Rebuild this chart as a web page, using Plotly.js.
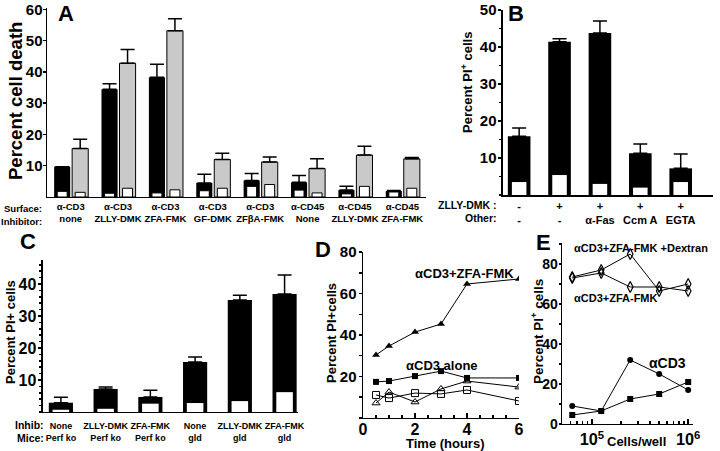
<!DOCTYPE html>
<html>
<head>
<meta charset="utf-8">
<script src="https://cdn.plot.ly/plotly-3.0.1.min.js"></script>
<style>html,body{margin:0;padding:0;background:#fff;}#chart{width:720px;height:451px;}</style>
</head>
<body>
<div id="chart"></div>
<script>
// ---------- Panel A ----------
const catsA = ['α-CD3<br>none', 'α-CD3<br>ZLLY-DMK', 'α-CD3<br>ZFA-FMK', 'α-CD3<br>GF-DMK',
               'α-CD3<br>ZFβA-FMK', 'α-CD45<br>None', 'α-CD45<br>ZLLY-DMK', 'α-CD45<br>ZFA-FMK'];
const blackA = [9.7, 34.5, 38.3, 4.5, 5.3, 4.7, 2.2, 1.9];
const blackErrA = [0, 1.7, 4.2, 2.8, 2.2, 2.2, 1.2, 0.2];
const greyA = [15.5, 42.8, 53.2, 12.0, 11.2, 9.1, 13.4, 12.2];
const greyErrA = [3.0, 4.4, 3.8, 2.0, 1.6, 3.1, 2.8, 0.4];
const whiteBlackA = [1.8, 1.2, 1.3, 2.0, 3.4, 2.2, 1.0, 1.6];
const whiteGreyA = [1.5, 2.8, 2.3, 2.8, 4.0, 1.3, 3.4, 2.8];

// ---------- Panel B ----------
const catsB = ['-<br>-', '+<br>-', '+<br>α-Fas', '+<br>Ccm A', '+<br>EGTA'];
const valB = [15.9, 41.4, 43.8, 11.3, 7.2];
const errB = [2.2, 0.8, 3.2, 2.5, 3.9];
const whiteB = [3.5, 5.4, 3.0, 2.0, 3.5];

// ---------- Panel C ----------
const catsC = ['None<br>Perf ko', 'ZLLY-DMK<br>Perf ko', 'ZFA-FMK<br>Perf ko',
               'None<br>gld', 'ZLLY-DMK<br>gld', 'ZFA-FMK<br>gld'];
const valC = [2.9, 7.2, 4.7, 15.6, 35.0, 36.9];
const errC = [1.7, 0.6, 2.1, 1.6, 1.5, 5.9];
const whiteC = [0.7, 1.0, 2.6, 2.8, 3.4, 6.2];

// ---------- Panel D ----------
const timeD = [0.5, 1, 2, 3, 4, 6];
const zfaD = [30.4, 34.7, 41.4, 45.3, 64.6, 67.0];
const cd3D = [17.4, 17.8, 20.2, 22.6, 19.3, 19.3];
const openTriD = [7.2, 12.5, 7.7, 14.0, 17.8, 14.9];
const openSqD = [11.1, 9.6, 12.0, 11.6, 13.5, 8.2];

// ---------- Panel E ----------
const cellsE = [62500, 125000, 250000, 500000, 1000000];
const dexE = [73.5, 77, 85, 66.5, 70];
const zfaE = [73, 75.5, 68.5, 68.5, 66.5];
const circE = [9, 6.5, 32, 25, 17];
const sqE = [4.5, 6.5, 12.5, 15, 21];

const FAM = 'Liberation Sans, Arial, Helvetica, sans-serif';
const bf = (size) => ({family: FAM, size: size, color: '#000', weight: 'bold'});
const zeros = n => new Array(n).fill(0);
const errUp = arr => ({type: 'data', symmetric: false, array: arr, arrayminus: zeros(arr.length),
                       color: '#000', thickness: 1.5, width: 7});

const traces = [
  // A
  {type: 'bar', x: catsA, y: blackA, xaxis: 'x', yaxis: 'y', offset: -0.35, width: 0.34,
   marker: {color: '#000', line: {width: 0}}, error_y: errUp(blackErrA)},
  {type: 'bar', x: catsA, y: greyA, xaxis: 'x', yaxis: 'y', offset: 0.03, width: 0.34,
   marker: {color: '#c9c9c9', line: {width: 1, color: '#000'}}, error_y: errUp(greyErrA)},
  {type: 'bar', x: catsA, y: whiteBlackA, xaxis: 'x', yaxis: 'y', offset: -0.285, width: 0.21,
   marker: {color: '#fff', line: {width: 1, color: '#000'}}},
  {type: 'bar', x: catsA, y: whiteGreyA, xaxis: 'x', yaxis: 'y', offset: 0.095, width: 0.21,
   marker: {color: '#fff', line: {width: 1, color: '#000'}}},
  // B
  {type: 'bar', x: catsB, y: valB, xaxis: 'x2', yaxis: 'y2', width: 0.56,
   marker: {color: '#000', line: {width: 0}}, error_y: errUp(errB)},
  {type: 'bar', x: catsB, y: whiteB, xaxis: 'x2', yaxis: 'y2', width: 0.36,
   marker: {color: '#fff', line: {width: 0}}},
  // C
  {type: 'bar', x: catsC, y: valC, xaxis: 'x3', yaxis: 'y3', width: 0.54,
   marker: {color: '#000', line: {width: 0}}, error_y: errUp(errC)},
  {type: 'bar', x: catsC, y: whiteC, xaxis: 'x3', yaxis: 'y3', width: 0.37,
   marker: {color: '#fff', line: {width: 0}}},
  // D
  {type: 'scatter', mode: 'lines+markers', x: timeD, y: zfaD, xaxis: 'x4', yaxis: 'y4',
   line: {color: '#000', width: 1}, marker: {symbol: 'triangle-up', size: 7, color: '#000'}},
  {type: 'scatter', mode: 'lines+markers', x: timeD, y: cd3D, xaxis: 'x4', yaxis: 'y4',
   line: {color: '#000', width: 1}, marker: {symbol: 'square', size: 6, color: '#000'}},
  {type: 'scatter', mode: 'lines+markers', x: timeD, y: openTriD, xaxis: 'x4', yaxis: 'y4',
   line: {color: '#000', width: 1}, marker: {symbol: 'triangle-up-open', size: 7, color: '#000'}},
  {type: 'scatter', mode: 'lines+markers', x: timeD, y: openSqD, xaxis: 'x4', yaxis: 'y4',
   line: {color: '#000', width: 1}, marker: {symbol: 'square-open', size: 7, color: '#000'}},
  // E
  {type: 'scatter', mode: 'lines+markers', x: cellsE, y: dexE, xaxis: 'x5', yaxis: 'y5',
   line: {color: '#000', width: 1}, marker: {symbol: 'diamond-tall-open', size: 8, color: '#000', line: {width: 1.2}}},
  {type: 'scatter', mode: 'lines+markers', x: cellsE, y: zfaE, xaxis: 'x5', yaxis: 'y5',
   line: {color: '#000', width: 1}, marker: {symbol: 'diamond-tall-open', size: 8, color: '#000', line: {width: 1.2}}},
  {type: 'scatter', mode: 'lines+markers', x: cellsE, y: circE, xaxis: 'x5', yaxis: 'y5',
   line: {color: '#000', width: 1}, marker: {symbol: 'circle', size: 6, color: '#000'}},
  {type: 'scatter', mode: 'lines+markers', x: cellsE, y: sqE, xaxis: 'x5', yaxis: 'y5',
   line: {color: '#000', width: 1}, marker: {symbol: 'square', size: 6, color: '#000'}}
];

const yBase = {showline: true, linecolor: '#000', linewidth: 1.5, ticks: 'outside', ticklen: 3,
               tickwidth: 1.5, tickcolor: '#000', showgrid: false, zeroline: false,
               fixedrange: true, automargin: false, ticklabelstandoff: -1, ticklabeloverflow: 'allow'};
const xCat = {type: 'category', showline: true, linecolor: '#000', linewidth: 1.5, ticks: '',
              showgrid: false, zeroline: false, tickangle: 0, fixedrange: true, automargin: false,
              ticklabeloverflow: 'allow'};

// helper for text placed at pixel positions of the 720x451 figure
const ann = (text, px, py, font, extra) => Object.assign({text: text, x: px / 720, y: 1 - py / 451,
  xref: 'paper', yref: 'paper', xanchor: 'center', yanchor: 'middle', showarrow: false, font: font}, extra || {});

const layout = {
  width: 720, height: 451, margin: {l: 0, r: 0, t: 0, b: 0},
  paper_bgcolor: '#fff', plot_bgcolor: 'rgba(0,0,0,0)', showlegend: false,
  barmode: 'overlay', font: bf(12),
  // A
  xaxis: Object.assign({}, xCat, {domain: [0.0653, 0.5917], anchor: 'y', range: [-0.5, 7.5],
          tickfont: bf(9.5)}),
  yaxis: Object.assign({}, yBase, {domain: [0.5632, 0.9825], anchor: 'x', range: [0, 60.5],
          tickvals: [10, 20, 30, 40, 50, 60], tickfont: bf(15), ticklabelstandoff: -3}),
  // B
  xaxis2: Object.assign({}, xCat, {domain: [0.6986, 0.9903], anchor: 'y2', range: [-0.4, 4.8],
          tickfont: bf(11)}),
  yaxis2: Object.assign({}, yBase, {domain: [0.5676, 0.9778], anchor: 'x2', range: [0, 50],
          tickvals: [10, 20, 30, 40, 50], tickfont: bf(15),
          minor: {dtick: 5, ticks: 'outside', ticklen: 2, tickcolor: '#000'}}),
  // C
  xaxis3: Object.assign({}, xCat, {domain: [0.0597, 0.4139], anchor: 'y3', range: [-0.4, 5.3],
          tickfont: bf(9), ticklabelstandoff: 5}),
  yaxis3: Object.assign({}, yBase, {domain: [0.0865, 0.4235], anchor: 'x3', range: [0, 47.5],
          tickvals: [10, 20, 30, 40], tickfont: bf(16),
          minor: {dtick: 2, ticks: 'outside', ticklen: 2, tickcolor: '#000'}}),
  // D
  xaxis4: {domain: [0.5042, 0.7208], anchor: 'y4', range: [0, 6], tickvals: [0, 2, 4, 6],
          showline: true, linecolor: '#000', linewidth: 1.5, ticks: 'inside', ticklen: 5,
          tickwidth: 1.5, tickcolor: '#000', showgrid: false, zeroline: false, fixedrange: true,
          automargin: false, ticklabelstandoff: -4, ticklabeloverflow: 'allow',
          minor: {dtick: 0.5, ticks: 'inside', ticklen: 3, tickcolor: '#000'},
          tickfont: bf(16)},
  yaxis4: Object.assign({}, yBase, {domain: [0.0732, 0.4412], anchor: 'x4', range: [0, 80],
          tickvals: [20, 40, 60, 80], tickfont: bf(15),
          minor: {dtick: 10, ticks: 'outside', ticklen: 3, tickcolor: '#000'}}),
  // E
  xaxis5: {type: 'log', domain: [0.7806, 0.9625], anchor: 'y5', range: [4.69, 6.05], dtick: 1,
          exponentformat: 'power', showline: true, linecolor: '#000', linewidth: 1.5,
          ticks: 'inside', ticklen: 5, tickwidth: 1.5, tickcolor: '#000', showgrid: false,
          zeroline: false, fixedrange: true, automargin: false, ticklabelstandoff: 1,
          ticklabeloverflow: 'allow',
          minor: {dtick: 'D1', ticks: 'inside', ticklen: 3, tickcolor: '#000', showgrid: false},
          tickfont: bf(13)},
  yaxis5: Object.assign({}, yBase, {domain: [0.0599, 0.4612], anchor: 'x5', range: [0, 90.5],
          tickvals: [0, 20, 40, 60, 80], tickfont: bf(14), ticklen: 2, ticklabelstandoff: -2,
          minor: {dtick: 10, ticks: 'outside', ticklen: 2, tickcolor: '#000'}}),
  annotations: [
    // panel letters
    ann('A', 66, 14, bf(22)),
    ann('B', 516, 14, bf(22)),
    ann('C', 28, 241, bf(22)),
    ann('D', 323, 249, bf(22)),
    ann('E', 543, 242, bf(22)),
    // axis titles
    ann('Percent cell death', 16, 101, bf(18.5), {textangle: -90}),
    ann('Percent PI<sup>+</sup> cells', 467, 83, bf(13), {textangle: -90}),
    ann('Percent PI+ cells', 10, 332, bf(13), {textangle: -90}),
    ann('Percent PI+cells', 331, 333, bf(13), {textangle: -90}),
    ann('Percent PI<sup>+</sup> cells', 537, 332, bf(13.5), {textangle: -90}),
    ann('Time (hours)', 445, 443, bf(13)),
    ann('Cells/well', 636, 441, bf(13)),
    // row headers of the category labels
    ann('Surface:', 44, 209, bf(9.5), {xanchor: 'right'}),
    ann('Inhibitor:', 44, 221, bf(9.5), {xanchor: 'right'}),
    ann('ZLLY-DMK :', 499, 205, bf(10.5), {xanchor: 'right'}),
    ann('Other:', 499, 218, bf(10.5), {xanchor: 'right'}),
    ann('Inhib:', 46, 425, bf(10.5), {xanchor: 'right'}),
    ann('Mice:', 46, 438, bf(10.5), {xanchor: 'right'}),
    // series labels
    ann('αCD3+ZFA-FMK', 464, 273, bf(13)),
    ann('αCD3 alone', 442, 365, bf(13)),
    ann('αCD3+ZFA-FMK +Dextran', 572, 248, bf(11), {xanchor: 'left'}),
    ann('αCD3+ZFA-FMK', 572, 298, bf(11), {xanchor: 'left'}),
    ann('αCD3', 647, 363, bf(14), {xanchor: 'left'})
  ]
};

Plotly.newPlot('chart', traces, layout, {staticPlot: true, displayModeBar: false});
</script>
</body>
</html>
